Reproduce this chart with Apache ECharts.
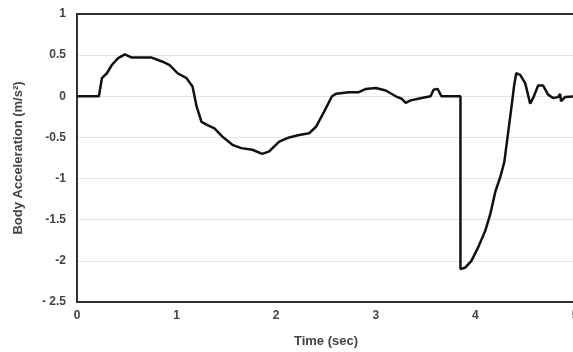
<!DOCTYPE html>
<html>
<head>
<meta charset="utf-8">
<script src="https://cdn.jsdelivr.net/npm/echarts@6/dist/echarts.min.js"></script>
<style>
  html, body { margin: 0; padding: 0; background: #fff; }
  #chart { width: 573px; height: 352px; }
</style>
</head>
<body>
<div id="chart"></div>
<script>
// time (sec) and body acceleration (m/s^2)
const times = [0, 0.22, 0.25, 0.30, 0.35, 0.41, 0.48, 0.55, 0.75, 0.86, 0.93, 1.01, 1.10, 1.16,
  1.20, 1.25, 1.31, 1.38, 1.46, 1.56, 1.65, 1.76, 1.86, 1.93, 2.03, 2.13, 2.23, 2.33, 2.40,
  2.48, 2.56, 2.60, 2.73, 2.83, 2.90, 3.00, 3.10, 3.20, 3.26, 3.30, 3.35, 3.46, 3.55, 3.58,
  3.62, 3.66, 3.85, 3.85, 3.90, 3.96, 4.03, 4.10, 4.15, 4.20, 4.25, 4.29, 4.33, 4.36, 4.39,
  4.41, 4.45, 4.50, 4.55, 4.58, 4.63, 4.68, 4.73, 4.78, 4.83, 4.85, 4.86, 4.90, 5.0];
const accel = [0, 0, 0.22, 0.28, 0.38, 0.46, 0.51, 0.47, 0.47, 0.42, 0.38, 0.28, 0.22, 0.12,
  -0.12, -0.31, -0.35, -0.39, -0.49, -0.59, -0.63, -0.65, -0.70, -0.67, -0.55, -0.50, -0.47, -0.45, -0.37,
  -0.19, 0.0, 0.03, 0.05, 0.05, 0.09, 0.10, 0.07, 0.0, -0.03, -0.08, -0.05, -0.02, 0.0, 0.08,
  0.09, 0.0, 0.0, -2.10, -2.08, -2.0, -1.83, -1.63, -1.43, -1.16, -0.98, -0.80, -0.43, -0.15, 0.14,
  0.28, 0.26, 0.16, -0.09, -0.02, 0.13, 0.13, 0.02, -0.02, -0.01, 0.03, -0.06, -0.01, 0.0];

const yTicks = [-2.5, -2, -1.5, -1, -0.5, 0, 0.5, 1];
const yTickLabels = ["- 2.5", "-2", "-1.5", "-1", "-0.5", "0", "0.5", "1"];
const xTicks = [0, 1, 2, 3, 4, 5];

const fontBold = { fontFamily: "Liberation Sans", fontWeight: "bold", color: "#444" };

let myChart = echarts.init(document.getElementById("chart"));
let option = {
  animation: false,
  grid: {
    left: 77,
    right: -2,
    top: 14,
    bottom: 50,
    outerBoundsMode: "none",
    containLabel: false
  },
  xAxis: [{
    type: "value",
    min: xTicks[0],
    max: xTicks[xTicks.length - 1],
    interval: 1,
    name: "Time (sec)",
    nameLocation: "middle",
    nameGap: 33,
    nameTextStyle: Object.assign({ fontSize: 13 }, fontBold),
    axisLine: { show: true, onZero: false, lineStyle: { color: "#333", width: 2 } },
    axisTick: { show: false },
    splitLine: { show: false },
    axisLabel: Object.assign({ fontSize: 12, margin: 8 }, fontBold)
  }, {
    // top frame line
    type: "value",
    position: "top",
    min: xTicks[0],
    max: xTicks[xTicks.length - 1],
    axisLine: { show: true, onZero: false, lineStyle: { color: "#333", width: 2 } },
    axisTick: { show: false },
    axisLabel: { show: false },
    splitLine: { show: false }
  }],
  yAxis: {
    type: "value",
    min: yTicks[0],
    max: yTicks[yTicks.length - 1],
    interval: 0.5,
    name: "Body Acceleration (m/s²)",
    nameLocation: "middle",
    nameGap: 52,
    nameTextStyle: Object.assign({ fontSize: 13 }, fontBold),
    axisLine: { show: true, lineStyle: { color: "#333", width: 2 } },
    axisTick: { show: false },
    splitLine: { show: true, lineStyle: { color: "#e4e4e4", width: 1 } },
    axisLabel: Object.assign({
      fontSize: 12, margin: 11,
      formatter: function (v) {
        let i = yTicks.indexOf(v);
        return i >= 0 ? yTickLabels[i] : "";
      }
    }, fontBold)
  },
  series: [{
    type: "line",
    data: times.map((t, i) => [t, accel[i]]),
    showSymbol: false,
    lineStyle: { color: "#111", width: 2.5 }
  }]
};
myChart.setOption(option);
</script>
</body>
</html>
